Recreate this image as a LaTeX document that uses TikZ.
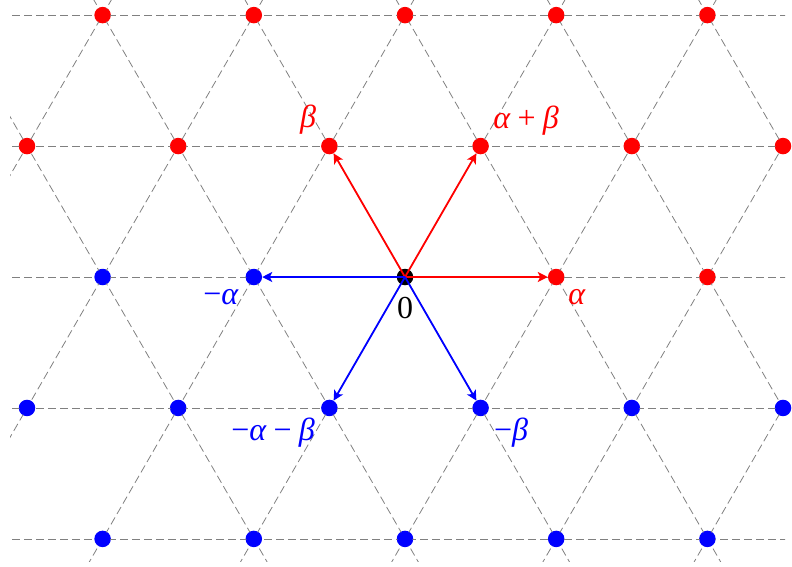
\documentclass[tikz,border=0pt]{standalone}
\usepackage{fontspec}
\setmainfont{Liberation Serif}
\usetikzlibrary{arrows.meta}
\tikzset{
  gridline/.style={draw=black!50, line width=0.8pt, dash pattern=on 8pt off 4pt},
  dotbase/.style={circle, inner sep=0pt, minimum size=16.5pt},
  dotR/.style={dotbase, fill=red},
  dotB/.style={dotbase, fill=blue},
  dotK/.style={dotbase, fill=black},
  rootR/.style={draw=red, line width=1.8pt, -{Stealth[length=10pt,width=10pt,inset=2.5pt]}},
  rootB/.style={draw=blue, line width=1.8pt, -{Stealth[length=10pt,width=10pt,inset=2.5pt]}},
  lab/.style={inner sep=0pt, font=\fontsize{32}{38}\selectfont},
}
\newcommand{\ia}{\textit{α}}
\newcommand{\ib}{\textit{β}}
\begin{document}
\begin{tikzpicture}[x=1pt,y=-1pt]
\useasboundingbox (0,0) rectangle (792,566);
% coordinates of the roots (for drawing arrows first)
\coordinate (o) at (405,277);
% lattice points
\foreach \m in {-2,...,2} {
  \node[dotR] (p2-\m) at ({405+151.2*\m},15.1) {};
  \node[dotB] (p-2-\m) at ({405+151.2*\m},538.9) {};
}
\foreach \m in {-2,...,3} {
  \node[dotR] (p1-\m) at ({329.4+151.2*\m},146.05) {};
  \node[dotB] (p-1-\m) at ({329.4+151.2*\m},407.95) {};
}
\foreach \m in {-2,-1} {
  \node[dotB] (p0-\m) at ({405+151.2*\m},277) {};
}
\foreach \m in {1,2} {
  \node[dotR] (p0-\m) at ({405+151.2*\m},277) {};
}
\node[dotK] (p0-0) at (405,277) {};
% grid
\begin{scope}
\clip (10,-10) rectangle (785,561);
\foreach \y in {15.1,146.05,277,407.95,538.9}
  \draw[gridline] (0,\y) -- (800,\y);
\foreach \k in {-4,...,4}
  \draw[gridline] ({405+151.2*\k-226.8},669.85) -- ({405+151.2*\k+226.8},-115.85);
\foreach \k in {-2,...,5}
  \draw[gridline] ({405+151.2*\k+226.8},669.85) -- ({405+151.2*\k-226.8},-115.85);
\end{scope}
% redraw dots over the grid
\foreach \m in {-2,...,2} {
  \fill[red] ({405+151.2*\m},15.1) circle (7.6pt);
  \fill[blue] ({405+151.2*\m},538.9) circle (7.6pt);
}
\foreach \m in {-2,...,3} {
  \fill[red] ({329.4+151.2*\m},146.05) circle (7.6pt);
  \fill[blue] ({329.4+151.2*\m},407.95) circle (7.6pt);
}
\foreach \m in {-2,-1} \fill[blue] ({405+151.2*\m},277) circle (7.6pt);
\foreach \m in {1,2} \fill[red] ({405+151.2*\m},277) circle (7.6pt);
\fill[black] (405,277) circle (7.6pt);
% roots
\draw[rootR] (p0-0.center) -- (p0-1);
\draw[rootR] (p0-0.center) -- (p1-1);
\draw[rootR] (p0-0.center) -- (p1-0);
\draw[rootB] (p0-0.center) -- (p0--1);
\draw[rootB] (p0-0.center) -- (p-1-1);
\draw[rootB] (p0-0.center) -- (p-1-0);
% labels
\node[lab, text=red] (lb) at (308,120) {\ib};
\node[lab, text=red] (lab) at (526,121) {\ia\hspace{0.22em}+\hspace{0.22em}\ib};
\node[lab, text=red] (la) at (577,297.5) {\ia};
\node[lab, text=blue] (lna) at (221,297) {−\ia};
\node[lab, text=black] (l0) at (405,308.5) {0};
\node[lab, text=blue] (lnab) at (273,433) {−\ia\hspace{0.22em}−\hspace{0.22em}\ib};
\node[lab, text=blue] (lnb) at (511,433) {−\ib};
\end{tikzpicture}
\end{document}
